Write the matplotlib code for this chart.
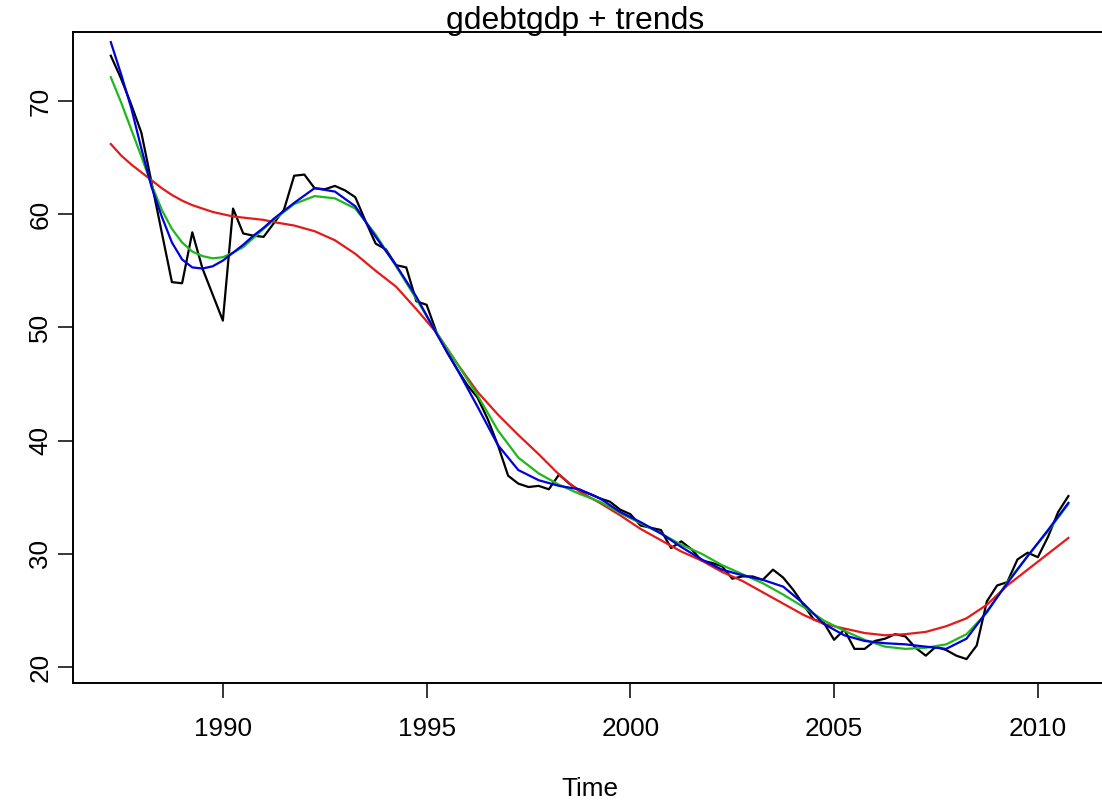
import matplotlib
matplotlib.use("Agg")
import matplotlib.pyplot as plt
import numpy as np

plt.rcParams['font.family'] = ['Liberation Sans', 'DejaVu Sans']

# quarterly series gdebtgdp, starting 1987 Q2
series_start = 1987.25
gdebtgdp = [74.0, 72.0, 69.7, 67.2, 62.8, 58.4, 54.0, 53.9, 58.4, 55.2,
            52.9, 50.6, 60.5, 58.3, 58.1, 58.0, 59.2, 60.4, 63.4, 63.5,
            62.3, 62.2, 62.5, 62.1, 61.5, 59.4, 57.4, 56.9, 55.5, 55.3,
            52.3, 52.0, 49.5, 47.8, 46.3, 44.9, 43.8, 41.9, 39.6, 36.9,
            36.2, 35.9, 36.0, 35.7, 37.0, 36.2, 35.6, 35.3, 34.9, 34.6,
            33.9, 33.5, 32.5, 32.3, 32.1, 30.5, 31.1, 30.4, 29.4, 29.2,
            28.9, 27.8, 28.0, 28.0, 27.7, 28.6, 27.9, 26.8, 25.5, 24.2,
            23.9, 22.4, 23.3, 21.6, 21.6, 22.3, 22.5, 22.9, 22.7, 21.7,
            21.0, 21.8, 21.5, 21.0, 20.7, 21.9, 25.8, 27.2, 27.5, 29.5,
            30.1, 29.7, 31.5, 33.7, 35.1]

# trend curves: quarterly 1987.25-1991.25, then half-yearly to 2010.75
trend_quarterly_span = (1987.25, 1991.25)
trend_halfyear_span = (1991.75, 2010.75)
trend_red = [66.2, 65.2, 64.4, 63.7, 63.0, 62.3, 61.7, 61.2, 60.8, 60.5,
             60.2, 60.0, 59.8, 59.7, 59.6, 59.5, 59.3,
             59.0, 58.5, 57.7, 56.5, 55.0, 53.6, 51.6, 49.5, 46.8, 44.3,
             42.3, 40.5, 38.8, 37.0, 35.5, 34.5, 33.4, 32.2, 31.2, 30.2,
             29.4, 28.4, 27.6, 26.6, 25.6, 24.6, 23.8, 23.4, 23.0, 22.8,
             22.9, 23.1, 23.6, 24.3, 25.5, 27.2, 28.6, 30.0, 31.4]
trend_green = [72.1, 69.9, 67.5, 65.1, 62.6, 60.4, 58.7, 57.5, 56.7, 56.3,
               56.1, 56.2, 56.6, 57.1, 57.9, 58.7, 59.5,
               60.9, 61.6, 61.4, 60.5, 58.2, 55.4, 52.5, 49.5, 46.8, 44.0,
               40.9, 38.5, 37.1, 36.1, 35.3, 34.6, 33.6, 32.7, 31.8, 30.8,
               30.0, 29.0, 28.2, 27.4, 26.4, 25.3, 24.1, 23.2, 22.4, 21.8,
               21.6, 21.7, 22.0, 22.9, 24.8, 27.5, 29.8, 32.0, 34.4]
trend_blue = [75.2, 72.4, 69.4, 65.8, 62.4, 59.8, 57.5, 56.0, 55.3, 55.2,
              55.4, 55.9, 56.6, 57.3, 58.1, 58.8, 59.6,
              61.0, 62.3, 62.0, 60.7, 58.0, 55.5, 52.7, 49.4, 46.3, 43.0,
              39.6, 37.4, 36.5, 36.0, 35.7, 34.9, 33.7, 32.8, 31.8, 30.6,
              29.5, 28.6, 28.1, 27.7, 27.1, 25.6, 23.8, 22.8, 22.3, 22.1,
              22.0, 21.8, 21.6, 22.5, 24.9, 27.4, 29.8, 32.1, 34.5]

x_ticks = [1990, 1995, 2000, 2005, 2010]
y_ticks = [20, 30, 40, 50, 60, 70]

t_q = series_start + 0.25 * np.arange(len(gdebtgdp))
t_trend = np.concatenate([
    np.arange(trend_quarterly_span[0], trend_quarterly_span[1] + 0.01, 0.25),
    np.arange(trend_halfyear_span[0], trend_halfyear_span[1] + 0.01, 0.5),
])

W, H = 1102, 802
fig = plt.figure(figsize=(W / 100, H / 100), dpi=100)
left, right, top, bottom = 72.5, 1106.7, 31.6, 683.2
ax = fig.add_axes([left / W, (H - bottom) / H, (right - left) / W, (bottom - top) / H])

ax.plot(t_q, gdebtgdp, color='black', lw=1.6)
ax.plot(t_trend, trend_red, color='#E41A1A', lw=1.6)
ax.plot(t_trend, trend_green, color='#1CB81C', lw=1.6)
ax.plot(t_trend, trend_blue, color='#0000DD', lw=1.6)

xr = t_q[-1] - t_q[0]
ax.set_xlim(t_q[0] - 0.04 * xr, t_q[-1] + 0.04 * xr)
yr = max(gdebtgdp) - min(gdebtgdp)
ax.set_ylim(min(gdebtgdp) - 0.04 * yr, max(gdebtgdp) + 0.04 * yr)

ax.set_xticks(x_ticks)
ax.set_xticklabels([str(v) for v in x_ticks])
ax.set_yticks(y_ticks)
ax.set_yticklabels([str(v) for v in y_ticks], rotation=90, va='center')
ax.tick_params(direction='out', length=11, width=1.1, labelsize=18.8, pad=13.5, colors='black')
ax.tick_params(axis='y', pad=3.5)
for s in ax.spines.values():
    s.set_linewidth(1.4)

fig.text(575 / W, 1 - 29.5 / H, 'gdebtgdp + trends', fontsize=23,
         ha='center', va='baseline')
ax.set_xlabel('Time', fontsize=18.8, labelpad=26)

fig.savefig('out.png', dpi=100)
